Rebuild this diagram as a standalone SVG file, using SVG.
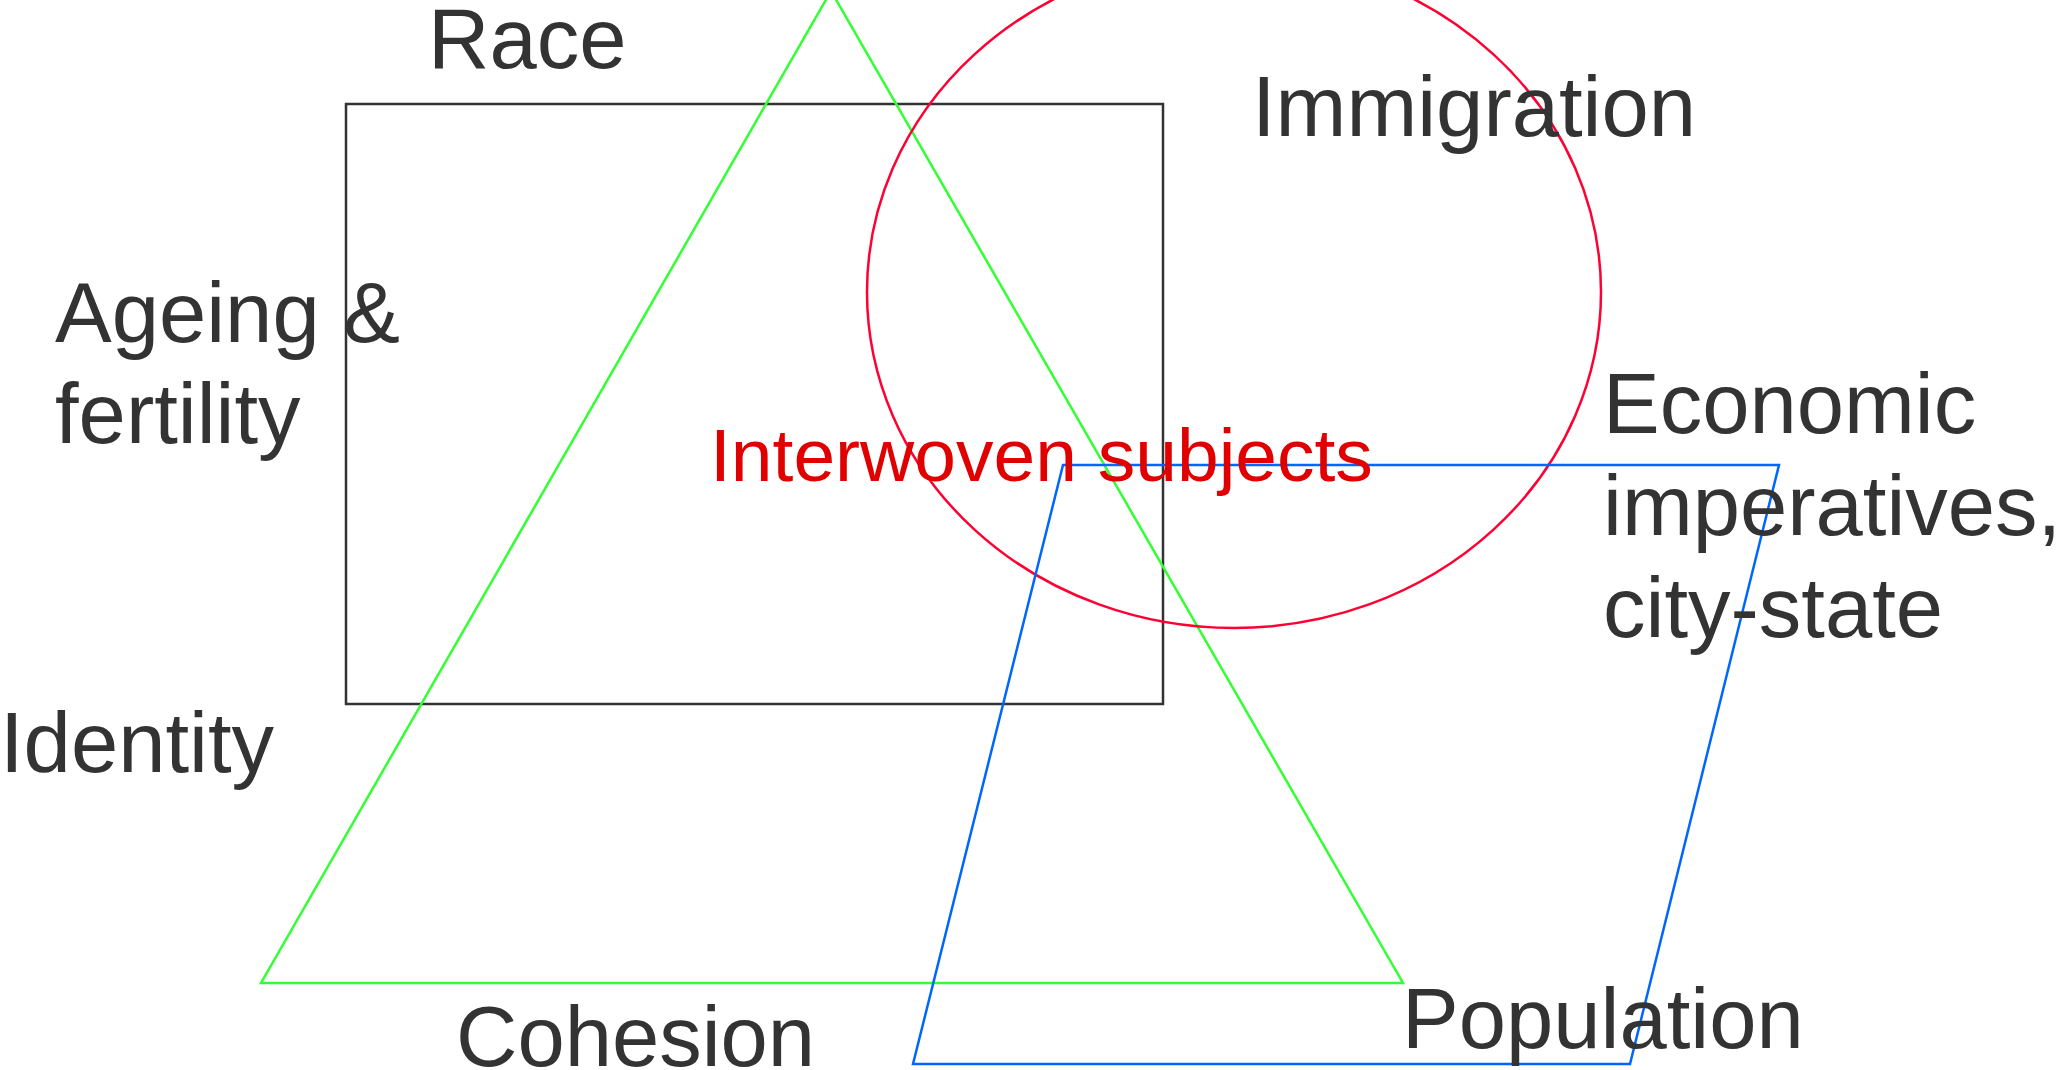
<svg xmlns="http://www.w3.org/2000/svg" width="2067" height="1070" viewBox="0 0 2067 1070">
<style>
.t{font-family:"Liberation Sans",Arial,sans-serif;font-size:85px;fill:#333333}
.r{font-family:"Liberation Sans",Arial,sans-serif;font-size:75px;fill:#e00000}
.s{fill:none;stroke-width:2.5}
</style>
<rect width="2067" height="1070" fill="#ffffff"/>
<g id="shapes">
<rect id="box" class="s" x="346" y="104" width="817" height="600" stroke="#333333"/>
<polygon id="triangle" class="s" points="831,-9 261,983 1403,983" stroke="#33ff33"/>
<ellipse id="ellipse" class="s" cx="1234" cy="292" rx="367" ry="336" stroke="#ff0033"/>
<polygon id="parallelogram" class="s" points="1063,465 1779,465 1630,1064 913,1064" stroke="#0066ff"/>
</g>
<g id="connectors"></g>
<g id="labels">
<text id="race" class="t" x="428" y="68">Race</text>
<text id="immigration" class="t" x="1252" y="136">Immigration</text>
<text id="ageing" class="t" x="55" y="342">Ageing &amp;<tspan x="55" y="443">fertility</tspan></text>
<text id="economic" class="t" x="1603" y="433">Economic<tspan x="1603" y="535">imperatives,</tspan><tspan x="1603" y="637">city-state</tspan></text>
<text id="identity" class="t" x="0" y="772">Identity</text>
<text id="cohesion" class="t" x="456" y="1066">Cohesion</text>
<text id="population" class="t" x="1402" y="1048">Population</text>
<text id="center" class="r" x="710" y="481">Interwoven subjects</text>
</g>
</svg>
